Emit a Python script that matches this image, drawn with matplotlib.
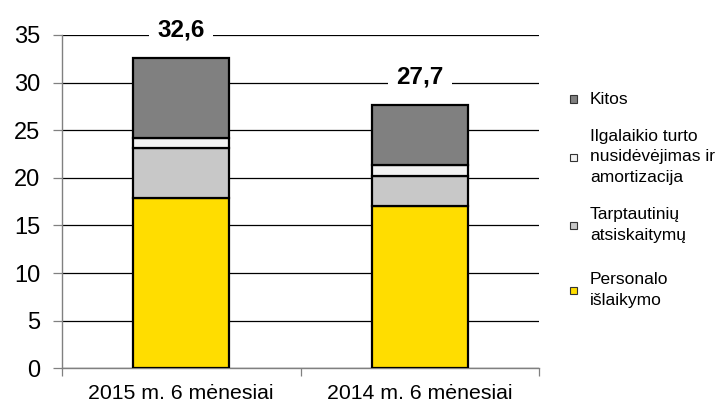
import numpy as np
import matplotlib
matplotlib.use("Agg")
from matplotlib import pyplot as plt
from matplotlib.patches import Rectangle

plt.rcParams['font.family'] = ['Liberation Sans', 'DejaVu Sans']

# duomenys
categories = ['2015 m. 6 mėnesiai', '2014 m. 6 mėnesiai']
personalo = [17.9, 17.0]
tarpt = [5.2, 3.2]
ilgalaikio = [1.1, 1.1]
kitos = [8.4, 6.4]
totals = ['32,6', '27,7']

series = [personalo, tarpt, ilgalaikio, kitos]
colors = ['#FFDD00', '#C8C8C8', '#F2F2F2', '#808080']
legend_labels = ['Kitos', 'Ilgalaikio turto\nnusidėvėjimas ir\namortizacija',
                 'Tarptautinių\natsiskaitymų', 'Personalo\nišlaikymo']

fig = plt.figure(figsize=(7.24, 4.03), dpi=100)
ax = fig.add_axes([0.0852, 0.0861, 0.6598, 0.8271])

x = np.arange(len(categories))
bottom = np.zeros(len(categories))
for vals, c in zip(series, colors):
    ax.bar(x, vals, bottom=bottom, width=0.4, color=c, edgecolor='black',
           linewidth=1.6, zorder=3)
    bottom = bottom + np.array(vals)

# sumos virs stulpeliu
for xi, tot, lab in zip(x, bottom, totals):
    ax.text(xi, tot + 2.25, lab, ha='center', va='baseline', fontsize=17.5,
            fontweight='bold', zorder=5, clip_on=False,
            bbox=dict(facecolor='white', edgecolor='none', pad=6))

ax.set_xlim(-0.5, 1.5)
ax.set_ylim(0, 35)
ax.set_yticks(np.arange(0, 36, 5))
ax.yaxis.grid(True, color='black', linewidth=0.9, zorder=0)
ax.set_axisbelow(True)
ax.tick_params(axis='y', labelsize=17, length=6.2, width=0.9, pad=9.4, color='#808080')

ax.set_xticks(x)
ax.set_xticklabels(categories, fontsize=15.3)
ax.set_xticks([-0.5, 0.5, 1.5], minor=True)
ax.tick_params(axis='x', which='major', length=0, pad=11)
ax.tick_params(axis='x', which='minor', length=5.5, width=0.9, color='#808080')

for s in ['top', 'right']:
    ax.spines[s].set_visible(False)
for s in ['left', 'bottom']:
    ax.spines[s].set_color('#808080')
    ax.spines[s].set_linewidth(1.0)

# legenda
W, H = 724.0, 403.0
leg_y = [99, 157, 225, 290]
leg_colors = colors[::-1]
for yy, lab, c in zip(leg_y, legend_labels, leg_colors):
    fig.patches.append(Rectangle(((573 - 3.5) / W, 1 - (yy + 3.5) / H), 7 / W, 7 / H,
                                 transform=fig.transFigure, facecolor=c,
                                 edgecolor='#333333', linewidth=0.8))
    fig.text(590 / W, 1 - yy / H, lab, ha='left', va='center', fontsize=12.5,
             linespacing=1.42)

fig.savefig('out.png', dpi=100)
